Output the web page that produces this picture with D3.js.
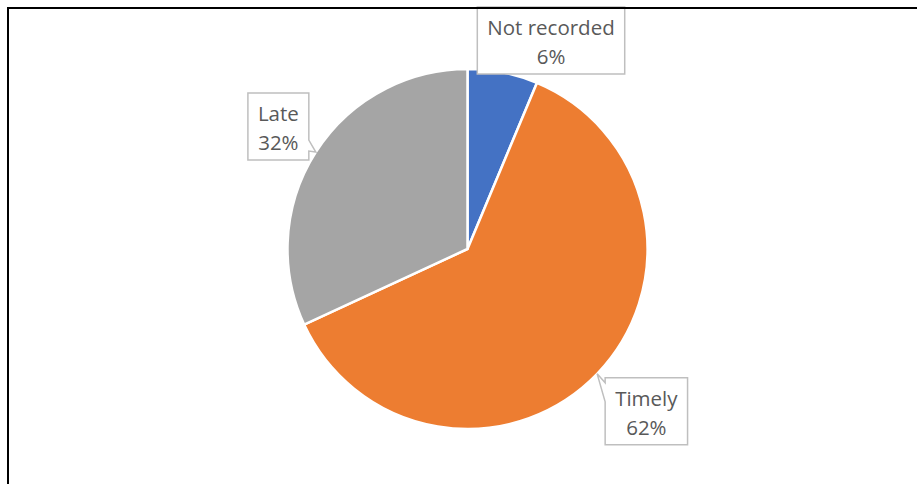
<!DOCTYPE html>
<html>
<head>
<meta charset="utf-8">
<script src="https://cdn.jsdelivr.net/npm/d3@7"></script>
<style>
  html, body { margin: 0; padding: 0; background: #fff; }
  svg { display: block; }
  text { font-family: "Open Sans", "Noto Sans", sans-serif; }
</style>
</head>
<body>
<svg id="chart" width="917" height="484"></svg>
<script>
// ---- data ----
const categories = ["Not recorded", "Timely", "Late"];
const values = [6.3, 61.8, 31.9];
const percentLabels = ["6%", "62%", "32%"];
const colors = ["#4472C4", "#ED7D31", "#A5A5A5"];

// ---- layout ----
const W = 917, H = 484;
const cx = 467.5, cy = 249, R = 180;
const fontSize = 20.5;
const boxH = 67, pad = 10;
// box placement relative to callout tip (slice mid-angle on the rim)
const boxOffsets = [
  { dx: -25.6, dy: -65.6, side: "none" },
  { dx: 8,     dy: 4,     side: "left" },
  { dx: -7,    dy: -59,   side: "right" }
];

const svg = d3.select("#chart");
svg.append("rect").attr("width", W).attr("height", H).attr("fill", "#fff");

const g = svg.append("g").attr("transform", `translate(${cx},${cy})`);
const pie = d3.pie().sort(null).value(d => d)(values);
const arc = d3.arc().innerRadius(0).outerRadius(R);

g.selectAll("path.slice").data(pie).join("path")
  .attr("class", "slice")
  .attr("d", arc)
  .attr("fill", (d, i) => colors[i])
  .attr("stroke", "#fff")
  .attr("stroke-width", 2.5)
  .attr("stroke-linejoin", "miter");

// callout labels
const labels = svg.append("g");
pie.forEach((d, i) => {
  const mid = (d.startAngle + d.endAngle) / 2;
  const tx = cx + R * Math.sin(mid), ty = cy - R * Math.cos(mid);
  const lg = labels.append("g");
  const t1 = lg.append("text").text(categories[i])
    .attr("font-size", fontSize).attr("fill", "#595959").attr("text-anchor", "middle");
  const t2 = lg.append("text").text(percentLabels[i])
    .attr("font-size", fontSize).attr("fill", "#595959").attr("text-anchor", "middle");
  const tw = Math.max(t1.node().getComputedTextLength(), t2.node().getComputedTextLength());
  const bw = tw + 2 * pad;
  const o = boxOffsets[i];
  let x0, y0 = ty + o.dy;
  if (o.side === "right") x0 = tx + o.dx - bw;
  else x0 = tx + o.dx;
  const x1 = x0 + bw, y1 = y0 + boxH;
  let p;
  if (o.side === "right") {
    p = `M${x0},${y0}H${x1}V${y0 + 47}L${tx},${ty}L${x1},${y0 + 58}V${y1}H${x0}Z`;
  } else if (o.side === "left") {
    p = `M${x0},${y0}H${x1}V${y1}H${x0}V${y0 + 24}L${tx},${ty}L${x0},${y0 + 5}Z`;
  } else {
    p = `M${x0},${y0}H${x1}V${y1}H${x0}Z`;
  }
  lg.insert("path", "text").attr("d", p)
    .attr("fill", "#fff").attr("stroke", "#BFBFBF").attr("stroke-width", 1.5);
  const xc = (x0 + x1) / 2;
  t1.attr("x", xc).attr("y", y0 + 28);
  t2.attr("x", xc).attr("y", y0 + 57);
});

// chart frame (left and top edges visible)
svg.append("path").attr("d", `M8,${H} V8 H${W}`)
  .attr("fill", "none").attr("stroke", "#000").attr("stroke-width", 2);
</script>
</body>
</html>
